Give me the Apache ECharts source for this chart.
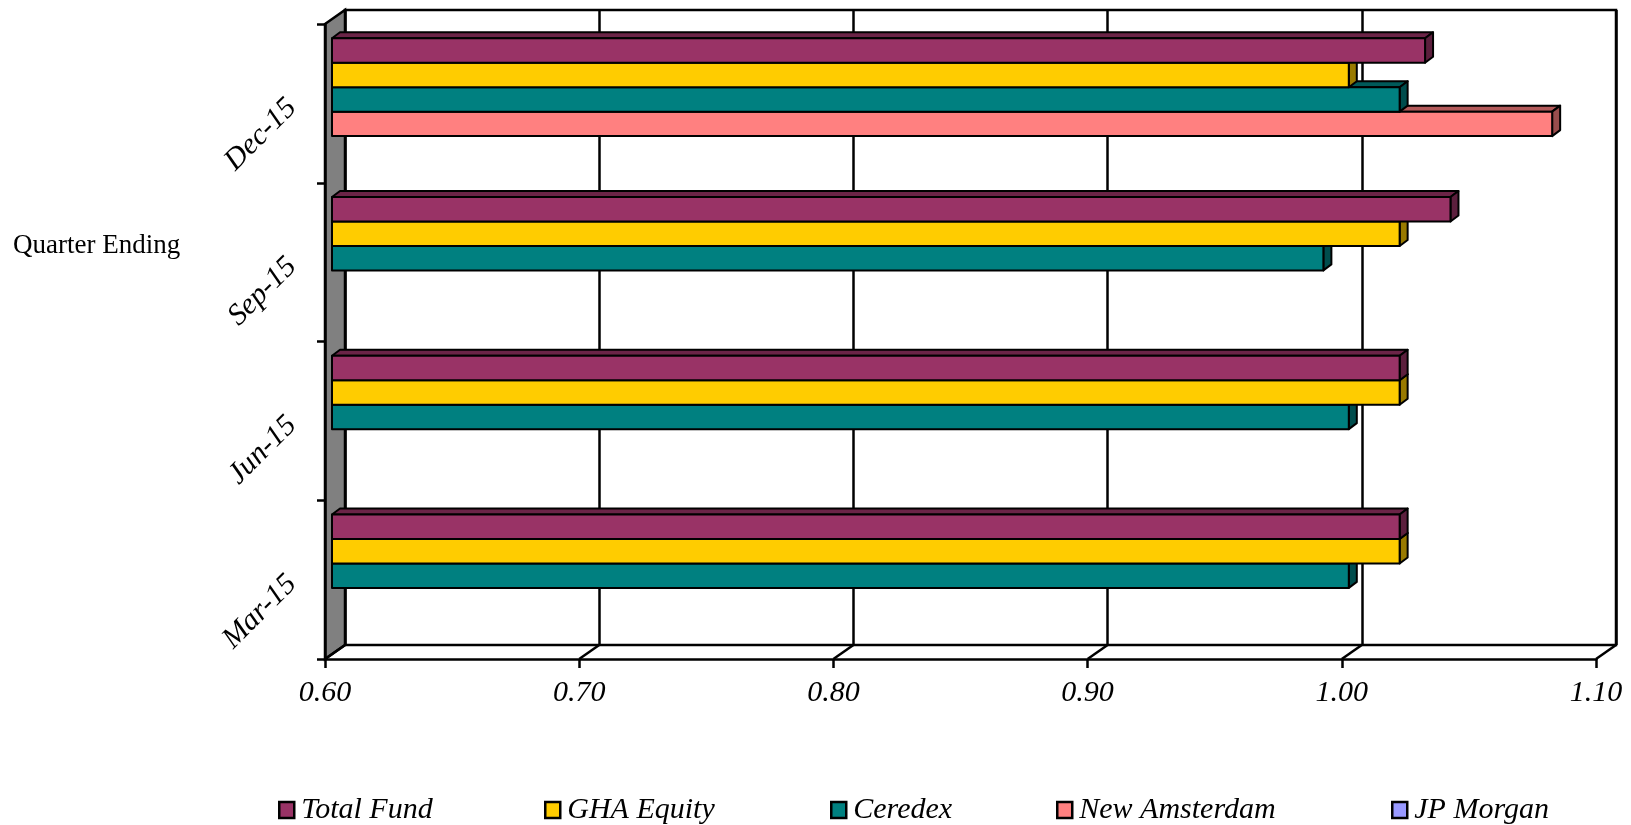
<!DOCTYPE html>
<html>
<head>
<meta charset="utf-8">
<script src="https://cdn.jsdelivr.net/npm/echarts@6/dist/echarts.min.js"></script>
<style>
  html, body { margin: 0; padding: 0; background: #fff; }
  #chart { width: 1631px; height: 825px; }
</style>
</head>
<body>
<div id="chart"></div>
<script>
// categories, bottom to top
const categories = ["Mar-15", "Jun-15", "Sep-15", "Dec-15"];
const seriesNames = ["Total Fund", "GHA Equity", "Ceredex", "New Amsterdam", "JP Morgan"];
const totalFund = [1.02, 1.02, 1.04, 1.03];
const ghaEquity = [1.02, 1.02, 1.02, 1.0];
const ceredex = [1.0, 1.0, 0.99, 1.02];
const newAmsterdam = [null, null, null, 1.08];
const jpMorgan = [null, null, null, null];
const xTicks = [0.6, 0.7, 0.8, 0.9, 1.0, 1.1];

const colors = ["#993366", "#FFCC00", "#008080", "#FF8080", "#9999FF"];
const allValues = [totalFund, ghaEquity, ceredex, newAmsterdam, jpMorgan];

const chart = echarts.init(document.getElementById("chart"));

// depth of the fake 3d box
const wallDx = 20, wallDy = 14;
// bar depth
const barDx = 8, barDy = 6;
const font = "'Liberation Serif', 'DejaVu Serif', serif";

// darken a #rrggbb colour
const shade = (hex, k) => {
  const n = parseInt(hex.slice(1), 16);
  const r = Math.round(((n >> 16) & 255) * k);
  const g = Math.round(((n >> 8) & 255) * k);
  const b = Math.round((n & 255) * k);
  return "rgb(" + r + "," + g + "," + b + ")";
};

// walls + floor lines
const renderFrame = (params, api) => {
  const cs = params.coordSys;
  const children = [];
  if (params.dataIndex === 0) {
    children.push({
      type: "polygon",
      shape: {
        points: [
          [cs.x, cs.y],
          [cs.x + wallDx, cs.y - wallDy],
          [cs.x + wallDx, cs.y + cs.height - wallDy],
          [cs.x, cs.y + cs.height]
        ]
      },
      style: { fill: "#808080", stroke: "#000", lineWidth: 2.5 }
    });
  }
  const x = api.coord([api.value(0), 0])[0];
  const yb = cs.y + cs.height;
  children.push({
    type: "line",
    shape: { x1: x, y1: yb, x2: x + wallDx, y2: yb - wallDy },
    style: { stroke: "#000", lineWidth: 2.5 }
  });
  return { type: "group", children: children };
};

const makeBarRender = (slot) => (params, api) => {
  const v = api.value(0);
  const cat = api.value(1);
  const base = api.coord([xTicks[0], cat]);
  const end = api.coord([v, cat]);
  const band = api.size([0, 1])[1];
  const h = band * 0.154;
  const top = base[1] - band / 2 + band * 0.09 + slot * h;
  const x0 = base[0] + 7;
  const x1 = end[0] + 7;
  const color = colors[slot];
  const stroke = { stroke: "#000", lineWidth: 2, lineJoin: "round" };
  return {
    type: "group",
    children: [
      {
        type: "polygon",
        shape: { points: [[x0, top], [x0 + barDx, top - barDy], [x1 + barDx, top - barDy], [x1, top]] },
        style: Object.assign({ fill: shade(color, 0.7) }, stroke)
      },
      {
        type: "polygon",
        shape: { points: [[x1, top], [x1 + barDx, top - barDy], [x1 + barDx, top + h - barDy], [x1, top + h]] },
        style: Object.assign({ fill: shade(color, 0.6) }, stroke)
      },
      {
        type: "rect",
        shape: { x: x0, y: top, width: x1 - x0, height: h },
        style: Object.assign({ fill: color }, stroke)
      }
    ]
  };
};

const barSeries = seriesNames.map((name, i) => ({
  name: name,
  type: "custom",
  xAxisIndex: 0,
  yAxisIndex: 0,
  z: 10 - i,
  itemStyle: { color: colors[i] },
  renderItem: makeBarRender(i),
  encode: { x: 0, y: 1 },
  data: allValues[i].map((v, j) => (v == null ? null : [v, j])).filter((d) => d)
}));

const legendLeft = [278, 544, 830, 1056, 1391];
const legends = seriesNames.map((name, i) => ({
  data: [name],
  left: legendLeft[i],
  top: 795,
  padding: 0,
  itemWidth: 15,
  itemHeight: 16,
  itemGap: 0,
  icon: "rect",
  itemStyle: { borderColor: "#000", borderWidth: 2.5 },
  textStyle: { fontFamily: font, fontStyle: "italic", fontSize: 30, color: "#000", padding: [0, 0, 0, 2] },
  selectedMode: false
}));

const option = {
  animation: false,
  backgroundColor: "#fff",
  title: {
    text: "Quarter Ending",
    left: 13,
    top: 232,
    padding: 0,
    textStyle: { fontFamily: font, fontWeight: "normal", fontSize: 27, color: "#000" }
  },
  legend: legends,
  grid: [
    // front plane
    { left: 325, top: 24, right: 35, bottom: 166 },
    // back wall
    {
      left: 325 + wallDx, top: 24 - wallDy, right: 35 - wallDx, bottom: 166 + wallDy,
      show: true, backgroundColor: "#fff", borderColor: "#000", borderWidth: 2.5
    }
  ],
  xAxis: [
    {
      type: "value",
      gridIndex: 0,
      min: 0.6,
      max: 1.1,
      interval: 0.1,
      splitLine: { show: false },
      axisLine: { show: true, lineStyle: { color: "#000", width: 2.5 } },
      axisTick: { show: true, length: 9, lineStyle: { color: "#000", width: 2.5 } },
      axisLabel: {
        margin: 19,
        fontFamily: font,
        fontStyle: "italic",
        fontSize: 30,
        color: "#000",
        formatter: (v) => v.toFixed(2)
      },
      z: 5
    },
    {
      type: "value",
      gridIndex: 1,
      min: 0.6,
      max: 1.1,
      interval: 0.1,
      splitLine: { show: true, lineStyle: { color: "#000", width: 2.5 } },
      axisLine: { show: false },
      axisTick: { show: false },
      axisLabel: { show: false }
    }
  ],
  yAxis: [
    {
      type: "category",
      gridIndex: 0,
      data: categories,
      axisLine: { show: true, lineStyle: { color: "#000", width: 2.5 } },
      axisTick: { show: true, length: 8, lineStyle: { color: "#000", width: 2.5 } },
      axisLabel: {
        rotate: 45,
        margin: 33,
        fontFamily: font,
        fontStyle: "italic",
        fontSize: 30,
        color: "#000"
      },
      z: 5
    },
    {
      type: "category",
      gridIndex: 1,
      data: categories,
      axisLine: { show: false },
      axisTick: { show: false },
      axisLabel: { show: false }
    }
  ],
  series: [
    {
      name: "frame",
      type: "custom",
      xAxisIndex: 0,
      yAxisIndex: 0,
      z: 1,
      silent: true,
      renderItem: renderFrame,
      encode: { x: 0 },
      data: xTicks.map((t) => [t])
    }
  ].concat(barSeries)
};

chart.setOption(option);
</script>
</body>
</html>
